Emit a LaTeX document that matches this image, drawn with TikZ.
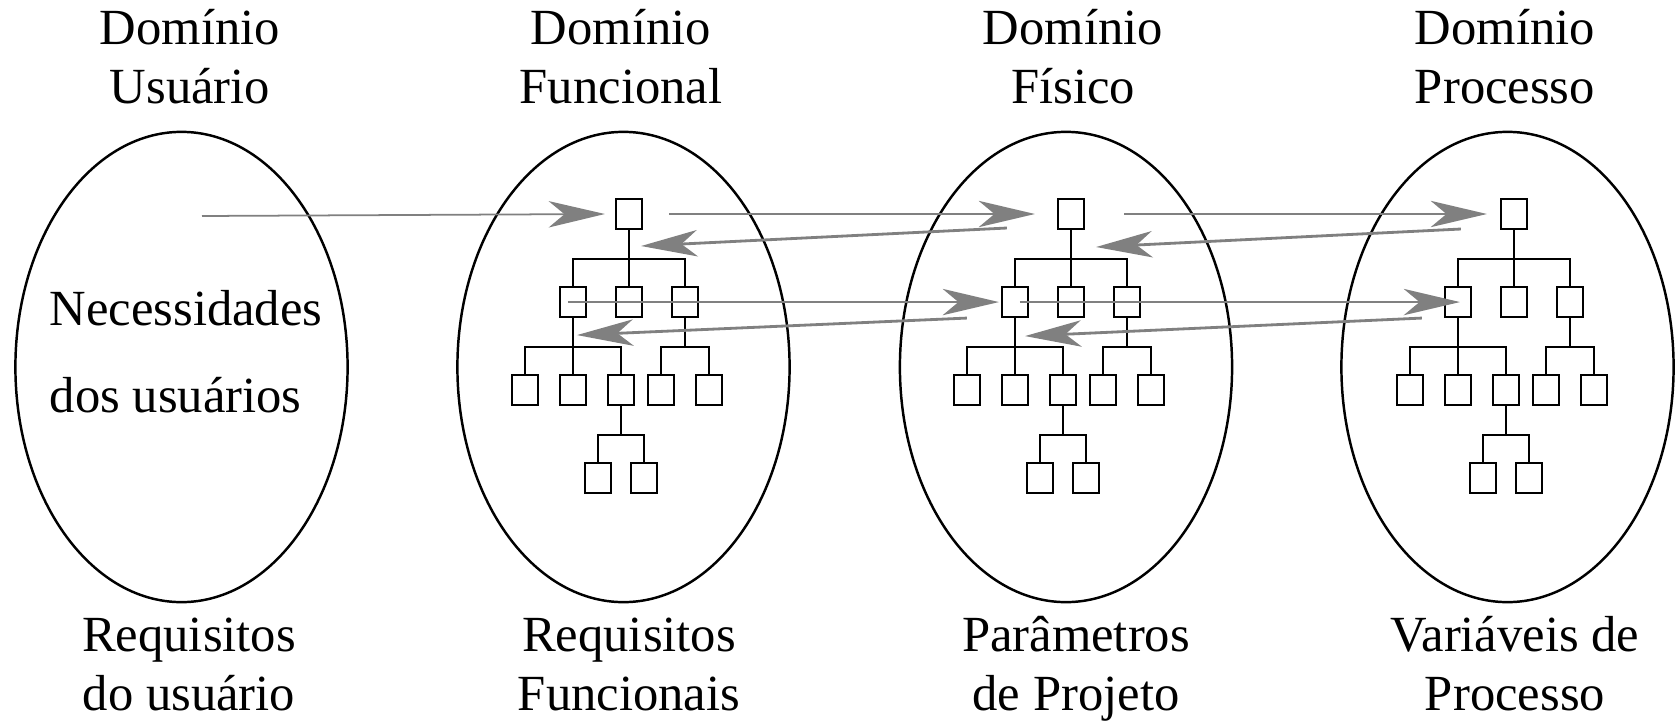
\documentclass[tikz,border=0pt]{standalone}
\usepackage{fontspec}
\setmainfont{LiberationSerif}[Extension=.ttf,UprightFont=*-Regular,BoldFont=*-Bold]
\usetikzlibrary{arrows.meta}
\usetikzlibrary{shapes.geometric}

\begin{document}
\begin{tikzpicture}[
     x=0.01cm, y=-0.01cm,
     dominio/.style={ellipse,draw,line width=0.7pt,minimum width=3.32cm,minimum height=4.70cm,inner sep=0pt},
     bloco/.style={rectangle,draw,line width=0.6pt,minimum width=0.26cm,minimum height=0.30cm,inner sep=0pt},
     rotulo/.style={align=center,anchor=base,inner sep=0pt,font=\fontsize{14.4}{16.5}\selectfont},
     ida/.style={draw=gray,line width=0.5pt,-{Stealth[length=16pt,width=7.5pt,inset=4.5pt]}},
     volta/.style={draw=gray,line width=0.8pt,-{Stealth[length=16pt,width=7.5pt,inset=4.5pt]}},
     level distance=0.88cm,
     level 1/.style={sibling distance=0.56cm},
     level 2/.style={sibling distance=0.48cm},
     level 3/.style={sibling distance=0.46cm},
     edge from parent/.style={draw,line width=0.6pt},
     edge from parent path={(\tikzparentnode.south) -- ++(0,-0.285cm) -| (\tikzchildnode.north)}
   ]
   \useasboundingbox (0,0) rectangle (1675,724);
   % Domains.
   \node[dominio] (dUsu) at (181.5,367) {};
   \node[dominio] (dFun) at (623.5,367) {};
   \node[dominio] (dFis) at (1066,367) {};
   \node[dominio] (dPro) at (1507.5,367) {};
   % Titles and outputs (base = last line).
   \node[rotulo] (tUsu) at (190,103) {Domínio\\Usuário};
   \node[rotulo] (tFun) at (621,103) {Domínio\\Funcional};
   \node[rotulo] (tFis) at (1073,103) {Domínio\\Físico};
   \node[rotulo] (tPro) at (1505,103) {Domínio\\Processo};
   \node[rotulo] (bUsu) at (189,710) {Requisitos\\do usuário};
   \node[rotulo] (bFun) at (629,710) {Requisitos\\Funcionais};
   \node[rotulo] (bFis) at (1076,710) {Parâmetros\\de Projeto};
   \node[rotulo] (bPro) at (1515,710) {Variáveis de\\Processo};
   \node[rotulo,align=left,anchor=base west,font=\fontsize{14.4}{24.7}\selectfont] (nec) at (49,412) {Necessidades\\dos usuários};
   % Hierarchies.
   \foreach \nome/\x in {fun/629, fis/1071, pro/1514} {
     \node[bloco] (\nome-r) at (\x,214) {} [grow=down]
       child {node[bloco] (\nome-a) {}
         child {node[bloco] {}}
         child {node[bloco] {}}
         child {node[bloco] {}
           child {node[bloco] {}}
           child {node[bloco] {}}
         }
       }
       child {node[bloco] (\nome-b) {}}
       child {node[bloco] (\nome-c) {}
         child {node[bloco] {}}
         child {node[bloco] {}}
       };
   }
   % Zigzag mapping.
   \coordinate (ini) at (202,216);
   \draw[ida] (ini) -- ([xshift=-0.10cm]fun-r.west);
   \draw[ida] ([xshift=0.26cm]fun-r.east) -- ([xshift=-0.22cm]fis-r.west);
   \draw[volta] ([shift={(-0.50cm,-0.14cm)}]fis-r.west) -- ([shift={(-0.02cm,-0.32cm)}]fun-r.east);
   \draw[ida] ([xshift=0.39cm]fis-r.east) -- ([xshift=-0.13cm]pro-r.west);
   \draw[volta] ([shift={(-0.39cm,-0.15cm)}]pro-r.west) -- ([shift={(0.11cm,-0.33cm)}]fis-r.east);
   \draw[ida] ([xshift=-0.05cm]fun-a.center) -- ([xshift=-0.02cm]fis-a.west);
   \draw[volta] ([shift={(-0.34cm,-0.16cm)}]fis-a.west) -- ([shift={(0.04cm,-0.33cm)}]fun-a.center);
   \draw[ida] ([xshift=0.05cm]fis-a.center) -- ([xshift=0.02cm]pro-a.center);
   \draw[volta] ([shift={(-0.22cm,-0.16cm)}]pro-a.west) -- ([shift={(0.10cm,-0.34cm)}]fis-a.center);
\end{tikzpicture}
\end{document}
